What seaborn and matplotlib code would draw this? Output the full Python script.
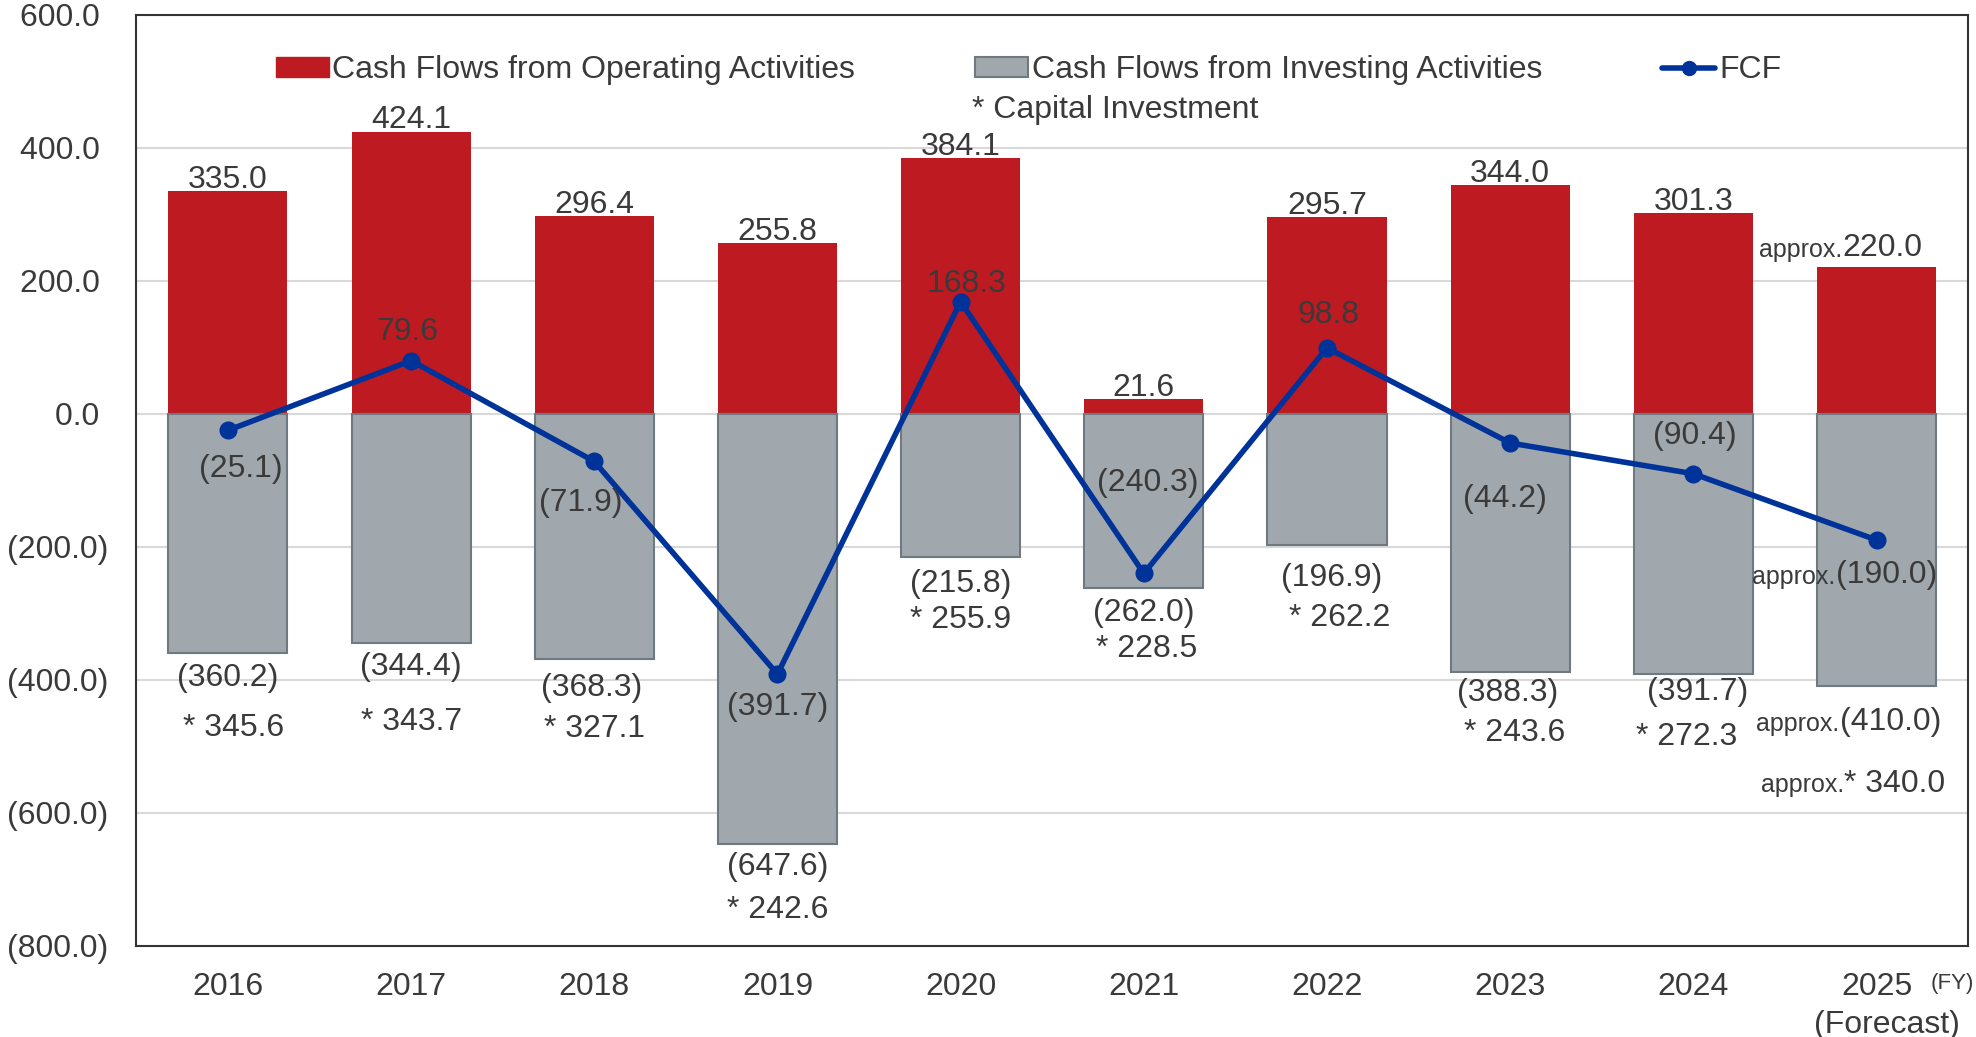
import seaborn as sns
import matplotlib.pyplot as plt
from matplotlib.patches import Patch
from matplotlib.lines import Line2D

# data (100 million yen)
years = ['2016', '2017', '2018', '2019', '2020', '2021', '2022', '2023', '2024', '2025']
operating = [335.0, 424.1, 296.4, 255.8, 384.1, 21.6, 295.7, 344.0, 301.3, 220.0]
investing = [-360.2, -344.4, -368.3, -647.6, -215.8, -262.0, -196.9, -388.3, -391.7, -410.0]
fcf = [-25.1, 79.6, -71.9, -391.7, 168.3, -240.3, 98.8, -44.2, -90.4, -190.0]
capex = [345.6, 343.7, 327.1, 242.6, 255.9, 228.5, 262.2, 243.6, 272.3, 340.0]
forecast = [False] * 9 + [True]

# label offsets (points)
op_dy = [11, 11, 11, 11, 11, 11, 11, 11, 11, 17]
op_dx = [0, 0, 0, 0, 0, 0, 0, 0, 0, 4]
inv_dy = [-15, -14.5, -18, -13.5, -16, -15, -21, -12, -10, -23]
inv_dx = [0, 0, -2, 0, 0, 0, 3, -2, 3, 10]
cap_dy = [-51, -54, -48, -44, -42, -41, -50, -41, -42, -67]
cap_dx = [4, 0, 0, 0, 0, 2, 9, 3, -5, 13]
fcf_off = [(9, -25), (-3, 24), (-10, -27), (0, -21), (4, 16),
           (3, 68), (1, 27), (-4, -37), (1, 30), (7, -22)]
SHIFT = -3  # matplotlib centres include descent

RED = '#BE1A22'
GRAY = '#A0A8AD'
GRAY_EDGE = '#6E7A80'
BLUE = '#003399'
TXT = '#3A3A3A'
FS = 23

sns.set_style('white')
plt.rcParams['font.family'] = ['Liberation Sans', 'DejaVu Sans']

fig, ax = plt.subplots(figsize=(19.76, 10.37), dpi=100)
fig.subplots_adjust(left=0.069, right=0.996, bottom=0.088, top=0.986)

sns.barplot(x=years, y=operating, color=RED, saturation=1, width=0.65,
            linewidth=0, ax=ax, zorder=2)
sns.barplot(x=years, y=investing, color=GRAY, saturation=1, width=0.65,
            edgecolor=GRAY_EDGE, linewidth=1.5, ax=ax, zorder=2)
sns.pointplot(x=years, y=fcf, color=BLUE, markers='o', errorbar=None,
              markersize=10, linewidth=4, ax=ax, zorder=4)

ax.set_xlim(-0.5, len(years) - 0.5)
ax.set_ylim(-800, 600)
ax.set_yticks(range(-800, 601, 200))
ax.set_yticklabels([f'({abs(v):.1f})' if v < 0 else f'{v:.1f} ' for v in range(-800, 601, 200)])
ax.set_xlabel('')
ax.set_ylabel('')
ax.tick_params(axis='y', labelsize=FS, pad=20, length=0, labelcolor=TXT)
ax.tick_params(axis='x', labelsize=FS, pad=19, length=0, labelcolor=TXT)

ax.yaxis.grid(True, color='#D9D9D9', linewidth=1.5)
ax.set_axisbelow(True)
for s in ax.spines.values():
    s.set_visible(True)
    s.set_color('#333333')
    s.set_linewidth(1.5)


def label(text, x, y, dx, dy, prefix=False):
    t = ax.annotate(text, xy=(x, y), xytext=(dx, dy + SHIFT), textcoords='offset points',
                    ha='center', va='center', fontsize=FS, color=TXT, zorder=5)
    if prefix:
        ax.annotate('approx.', xy=(0, 0.04), xycoords=t, ha='right', va='bottom',
                    fontsize=18, color=TXT, zorder=5)


for i in range(len(years)):
    label(f'{operating[i]:.1f}', i, operating[i], op_dx[i], op_dy[i], forecast[i])
    label(f'({abs(investing[i]):.1f})', i, investing[i], inv_dx[i], inv_dy[i], forecast[i])
    label(f'* {capex[i]:.1f}', i, investing[i], cap_dx[i], cap_dy[i], forecast[i])
    v = fcf[i]
    txt = f'({abs(v):.1f})' if v < 0 else f'{v:.1f}'
    label(txt, i, v, fcf_off[i][0], fcf_off[i][1], forecast[i])

# legend
handles = [Patch(facecolor=RED, edgecolor=RED),
           Patch(facecolor=GRAY, edgecolor=GRAY_EDGE, linewidth=1.5),
           Line2D([], [], color=BLUE, marker='o', linewidth=4, markersize=10)]
names = ['Cash Flows from Operating Activities', 'Cash Flows from Investing Activities', 'FCF']
ax.legend(handles, names, ncol=3, loc='center left', bbox_to_anchor=(0.076, 0.940),
          frameon=False, fontsize=FS, handlelength=1.66, handleheight=0.6,
          handletextpad=0.12, columnspacing=3.75, borderaxespad=0, borderpad=0,
          labelcolor=TXT)
ax.text(0.456, 0.898, '* Capital Investment', transform=ax.transAxes,
        ha='left', va='center', fontsize=FS, color=TXT)

fig.text(0.955, 0.012, '(Forecast)', ha='center', va='center', fontsize=FS, color=TXT)
fig.text(0.988, 0.052, '(FY)', ha='center', va='center', fontsize=16, color=TXT)

fig.savefig('out.png', dpi=100)
